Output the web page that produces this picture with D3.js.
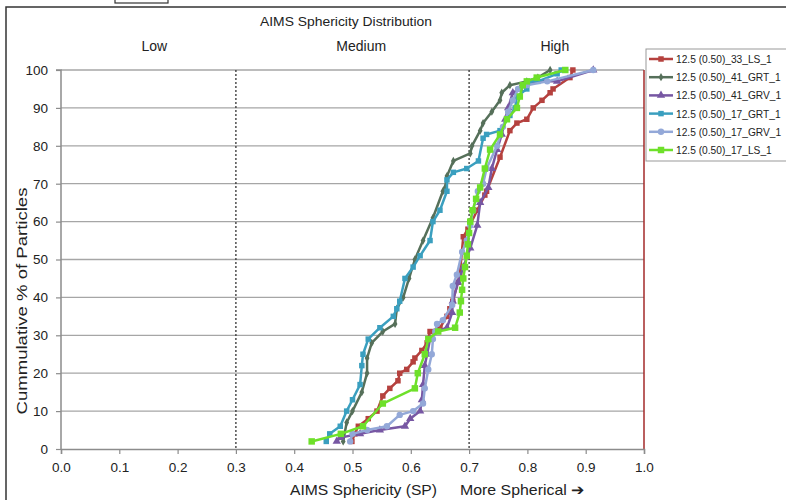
<!DOCTYPE html>
<html>
<head>
<meta charset="utf-8">
<script src="https://cdn.jsdelivr.net/npm/d3@7"></script>
<style>
  body { margin: 0; padding: 0; background: #fff; }
  text { font-family: "Liberation Sans", Arial, sans-serif; fill: #222; }
</style>
</head>
<body>
<script>
// series (x = AIMS sphericity, y = cumulative %)
const red33LS_x = [0.499,0.504,0.51,0.527,0.542,0.552,0.564,0.578,0.581,0.593,0.604,0.607,0.619,0.628,0.633,0.65,0.662,0.667,0.672,0.681,0.684,0.69,0.698,0.714,0.727,0.73,0.753,0.77,0.782,0.799,0.81,0.825,0.839,0.844,0.873,0.878];
const red33LS_y = [2,4,6,8,10,14,16,18,20,21,23,24,26,28,31,32,35,37,39,44,46,56,58,63,67,68,77,84,86,87,90,92,94,95,98,100];

const grt41_x = [0.484,0.49,0.50,0.516,0.525,0.525,0.533,0.552,0.573,0.576,0.587,0.597,0.607,0.621,0.638,0.655,0.659,0.662,0.673,0.702,0.705,0.719,0.724,0.739,0.753,0.756,0.770,0.799,0.818,0.839];
const grt41_y = [2,7,10,15,20,24,28,31,33,37,40,45,50,55,61,68,69,72,76,78,80,84,86,89,92,94,96,97,98,100];

const grv41_x = [0.473,0.479,0.513,0.547,0.59,0.599,0.616,0.619,0.621,0.624,0.628,0.633,0.645,0.662,0.671,0.672,0.681,0.69,0.702,0.714,0.719,0.733,0.739,0.748,0.756,0.762,0.767,0.775,0.787,0.813,0.851,0.913];
const grv41_y = [2,3,4,5,6,8,10,13,17,22,25,29,31,32,36,39,44,48,53,59,65,69,74,79,83,87,90,94,95,97,97,100];

const grt17_x = [0.455,0.461,0.479,0.49,0.50,0.513,0.516,0.518,0.527,0.547,0.570,0.576,0.581,0.590,0.604,0.616,0.633,0.638,0.650,0.662,0.662,0.673,0.696,0.716,0.724,0.73,0.753,0.77,0.779,0.782,0.799,0.804,0.818,0.851,0.858];
const grt17_y = [2,4,6,10,13,17,22,25,29,32,35,37,39,45,48,51,55,60,63,68,71,73,74,76,82,83,84,88,90,93,95,97,97,99,100];

const grv17_x = [0.496,0.50,0.525,0.559,0.581,0.604,0.621,0.624,0.63,0.636,0.638,0.642,0.645,0.655,0.671,0.672,0.679,0.688,0.696,0.702,0.707,0.715,0.724,0.73,0.748,0.758,0.767,0.775,0.784,0.799,0.834,0.913];
const grv17_y = [2,4,5,6,9,10,12,16,21,25,29,31,33,34,38,43,46,52,55,59,63,68,70,74,80,85,89,92,95,96,97,100];

const ls17_x = [0.43,0.48,0.518,0.552,0.607,0.612,0.624,0.630,0.647,0.676,0.684,0.686,0.688,0.690,0.693,0.696,0.698,0.700,0.702,0.706,0.712,0.719,0.727,0.736,0.753,0.765,0.782,0.787,0.792,0.799,0.816,0.865];
const ls17_y = [2,4,6,12,16,20,25,29,31,32,36,39,42,45,48,51,54,57,60,63,66,69,74,79,83,87,90,93,96,97,98,100];

const seriesNames = ["12.5 (0.50)_33_LS_1","12.5 (0.50)_41_GRT_1","12.5 (0.50)_41_GRV_1","12.5 (0.50)_17_GRT_1","12.5 (0.50)_17_GRV_1","12.5 (0.50)_17_LS_1"];
const seriesColors = ["#b5413e","#56705a","#7757a3","#3a9fbf","#93a8d8","#6ee02a"];
const seriesMarkers = ["square","diamond","triangle","square","circle","square"];
const seriesX = [red33LS_x, grt41_x, grv41_x, grt17_x, grv17_x, ls17_x];
const seriesY = [red33LS_y, grt41_y, grv41_y, grt17_y, grv17_y, ls17_y];

const xTicks = [0,0.1,0.2,0.3,0.4,0.5,0.6,0.7,0.8,0.9,1.0];
const yTicks = [0,10,20,30,40,50,60,70,80,90,100];
const zoneLines = [0.3, 0.7];
const zoneLabels = [["Low",0.16],["Medium",0.515],["High",0.847]];

const W = 786, H = 500;
const svg = d3.select("body").append("svg").attr("width", W).attr("height", H);

// outer frame + little box at top
svg.append("rect").attr("x",6).attr("y",7).attr("width",W+10).attr("height",H+10)
  .attr("fill","none").attr("stroke","#333").attr("stroke-width",1.5);
svg.append("rect").attr("x",115).attr("y",-10).attr("width",53).attr("height",13)
  .attr("fill","none").attr("stroke","#333").attr("stroke-width",1.2);

const xScale = d3.scaleLinear().domain([0,1]).range([61,644]);
const yScale = d3.scaleLinear().domain([0,100]).range([449,70]);

// grid
svg.append("g").selectAll("line").data(yTicks.filter(d=>d>0)).join("line")
  .attr("x1",xScale(0)).attr("x2",xScale(1))
  .attr("y1",d=>yScale(d)).attr("y2",d=>yScale(d))
  .attr("stroke","#a6a6a6").attr("stroke-width",1.3);

// dotted zone lines
svg.append("g").selectAll("line").data(zoneLines).join("line")
  .attr("x1",d=>xScale(d)).attr("x2",d=>xScale(d))
  .attr("y1",yScale(100)).attr("y2",yScale(0))
  .attr("stroke","#333").attr("stroke-width",1.3).attr("stroke-dasharray","2,2");

// right edge (red)
svg.append("line").attr("x1",xScale(1)).attr("x2",xScale(1))
  .attr("y1",yScale(100)).attr("y2",yScale(0))
  .attr("stroke","#a32a2a").attr("stroke-width",1.5);

// axes
const xAxis = d3.axisBottom(xScale).tickValues(xTicks).tickFormat(d3.format(".1f")).tickSize(5).tickPadding(8);
const yAxis = d3.axisLeft(yScale).tickValues(yTicks).tickSize(5).tickPadding(8);

const gx = svg.append("g").attr("transform",`translate(0,${yScale(0)})`).call(xAxis);
const gy = svg.append("g").attr("transform",`translate(${xScale(0)},0)`).call(yAxis);
[gx,gy].forEach(g=>{
  g.select(".domain").attr("stroke","#8c8c8c").attr("stroke-width",1.5);
  g.selectAll(".tick line").attr("stroke","#8c8c8c").attr("stroke-width",1.2);
  g.selectAll(".tick text").attr("font-size",13.5).attr("fill","#222")
    .attr("font-family","'Liberation Sans', Arial, sans-serif");
});
gy.select(".domain").attr("d",`M-5,${yScale(100)}H0V${yScale(0)}`);

// titles
svg.append("text").attr("x",346).attr("y",26).attr("text-anchor","middle")
  .attr("font-size",13).attr("textLength",172).attr("lengthAdjust","spacingAndGlyphs")
  .text("AIMS Sphericity Distribution");
svg.append("g").selectAll("text").data(zoneLabels).join("text")
  .attr("x",d=>xScale(d[1])).attr("y",51).attr("text-anchor","middle")
  .attr("font-size",14).text(d=>d[0]);
svg.append("text").attr("x",290).attr("y",495)
  .attr("font-size",15).attr("textLength",147).attr("lengthAdjust","spacingAndGlyphs")
  .text("AIMS Sphericity (SP)");
svg.append("text").attr("x",460).attr("y",495)
  .attr("font-size",15).attr("textLength",125).attr("lengthAdjust","spacingAndGlyphs")
  .text("More Spherical \u2794");
svg.append("text").attr("transform",`translate(27,301) rotate(-90)`)
  .attr("text-anchor","middle").attr("font-size",15)
  .attr("textLength",227).attr("lengthAdjust","spacingAndGlyphs")
  .text("Cummulative % of Particles");

// series
const symbolFor = {square:d3.symbolSquare, diamond:d3.symbolDiamond, triangle:d3.symbolTriangle, circle:d3.symbolCircle};
const sizeFor = {square:30, diamond:20, triangle:30, circle:32};
const line = d3.line().x(d=>xScale(d[0])).y(d=>yScale(d[1]));

seriesNames.forEach((name,i)=>{
  const pts = d3.zip(seriesX[i], seriesY[i]);
  const g = svg.append("g");
  g.append("path").datum(pts).attr("d",line)
    .attr("fill","none").attr("stroke",seriesColors[i]).attr("stroke-width",2.5)
    .attr("stroke-linejoin","round");
  const sz = i===5 ? 42 : sizeFor[seriesMarkers[i]];
  g.selectAll("path.m").data(pts).join("path").attr("class","m")
    .attr("transform",d=>`translate(${xScale(d[0])},${yScale(d[1])})`)
    .attr("d",d3.symbol(symbolFor[seriesMarkers[i]], sz))
    .attr("fill",seriesColors[i]);
});

// legend
const lg = svg.append("g");
lg.append("rect").attr("x",646).attr("y",49).attr("width",150).attr("height",112)
  .attr("fill","#fff").attr("stroke","#999").attr("stroke-width",1);
const ly = d3.scalePoint().domain(seriesNames).range([59,150]);
seriesNames.forEach((name,i)=>{
  const y = ly(name);
  lg.append("line").attr("x1",649).attr("x2",673).attr("y1",y).attr("y2",y)
    .attr("stroke",seriesColors[i]).attr("stroke-width",2.5);
  lg.append("path").attr("transform",`translate(661,${y})`)
    .attr("d",d3.symbol(symbolFor[seriesMarkers[i]], i===5?42:sizeFor[seriesMarkers[i]]))
    .attr("fill",seriesColors[i]);
  lg.append("text").attr("x",676).attr("y",y+4).attr("font-size",10.2).text(name);
});
</script>
</body>
</html>
